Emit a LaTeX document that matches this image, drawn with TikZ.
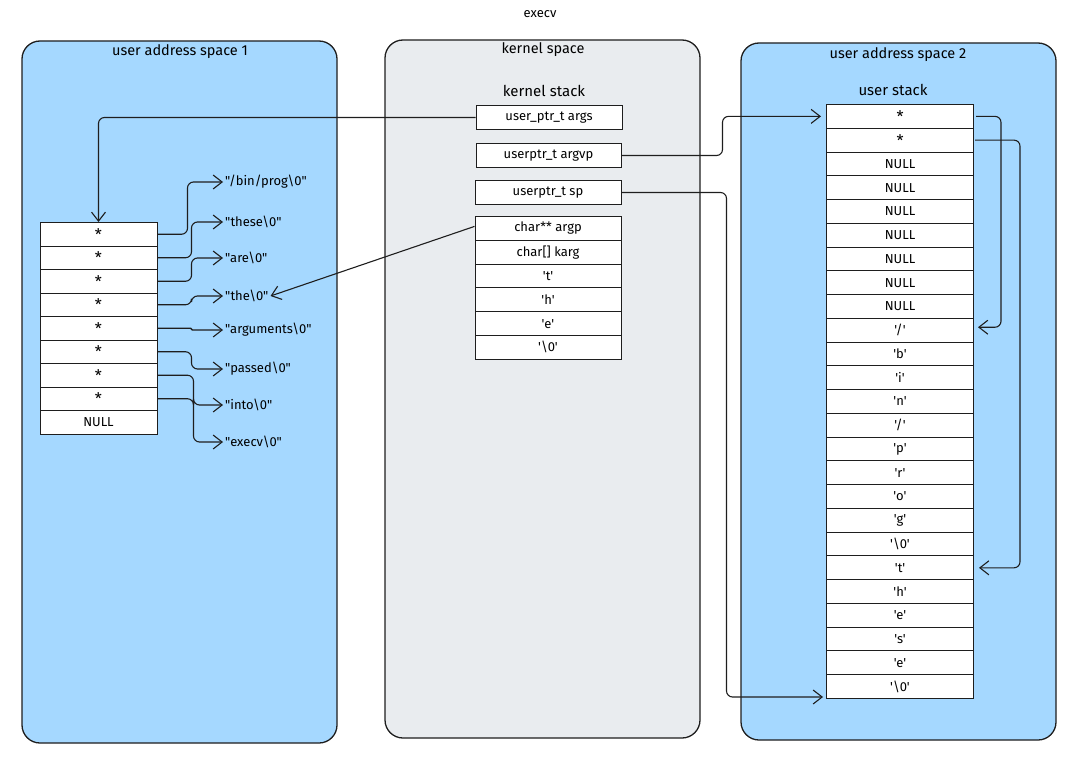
\documentclass[tikz,border=0pt]{standalone}
\usepackage{fontspec}
\setmainfont{Fira Sans}[Ligatures=TeXOff]
\usetikzlibrary{arrows.meta}
\definecolor{ink}{HTML}{1E1E1E}
\definecolor{ublue}{HTML}{A5D8FF}
\definecolor{kgray}{HTML}{E9ECEF}
\newcommand{\ptrstar}{\raisebox{-0.32em}{\fontsize{16}{16}\selectfont *}}
\begin{document}
\begin{tikzpicture}[x=1pt,y=-1pt,font=\fontsize{13}{15}\selectfont,
  panel/.style={draw=ink,line width=1.3pt,rounded corners=18pt},
  cellbox/.style={draw=ink,fill=white,line width=1pt,minimum height=#1,inner sep=0pt,anchor=north},
  cellbox/.default=23.5pt,
  arr/.style={draw=ink,line width=1.1pt,-{Straight Barb[length=9pt,width=14pt]},rounded corners=6pt},
  lbl/.style={inner sep=0pt},
  ttl/.style={inner sep=0pt,font=\fontsize{14.5}{16}\selectfont},
  sub/.style={inner sep=0pt,font=\fontsize{15}{17}\selectfont}]
\useasboundingbox (0,0) rectangle (1081,757);
% panels
\draw[panel,fill=ublue] (22,41) rectangle (337,743);
\draw[panel,fill=kgray] (385,40) rectangle (700,738);
\draw[panel,fill=ublue] (741,43) rectangle (1056,740);
% titles
\node[lbl] (title) at (540,14) {execv};
\node[ttl] (t1) at (180,52) {user address space 1};
\node[ttl] (t2) at (543,50) {kernel space};
\node[sub] (t3) at (544,91) {kernel stack};
\node[ttl] (t4) at (898,55) {user address space 2};
\node[sub] (t5) at (893,90) {user stack};
% left stack
\foreach \i/\t in {1/\ptrstar,2/\ptrstar,3/\ptrstar,4/\ptrstar,5/\ptrstar,6/\ptrstar,7/\ptrstar,8/\ptrstar,9/NULL}
  \node[cellbox,minimum width=117pt] (l\i) at (98.5,{222+(\i-1)*23.5}) {\t};
% strings
\node[lbl,anchor=west] (s1) at (225,182) {"/bin/prog\textbackslash 0"};
\node[lbl,anchor=west] (s2) at (225,222) {"these\textbackslash 0"};
\node[lbl,anchor=west] (s3) at (225,258) {"are\textbackslash 0"};
\node[lbl,anchor=west] (s4) at (225,296) {"the\textbackslash 0"};
\node[lbl,anchor=west] (s5) at (225,330) {"arguments\textbackslash 0"};
\node[lbl,anchor=west] (s6) at (225,369) {"passed\textbackslash 0"};
\node[lbl,anchor=west] (s7) at (225,405) {"into\textbackslash 0"};
\node[lbl,anchor=west] (s8) at (225,442) {"execv\textbackslash 0"};
% kernel boxes
\node[cellbox=24pt,minimum width=146pt] (ka) at (549,105) {user\_ptr\_t args};
\node[cellbox=24pt,minimum width=145pt] (kv) at (548.5,143) {userptr\_t argvp};
\node[cellbox=24pt,minimum width=146pt] (ks) at (548,180) {userptr\_t sp};
\foreach \i/\t in {1/char** argp,2/char[] karg,3/'t',4/'h',5/'e',6/'\textbackslash 0'}
  \node[cellbox=23.8pt,minimum width=146pt] (k\i) at (548,{216+(\i-1)*23.8}) {\t};
% user stack
\foreach \i/\t in {1/\ptrstar,2/\ptrstar,3/NULL,4/NULL,5/NULL,6/NULL,7/NULL,8/NULL,9/NULL,
  10/{'/'},11/'b',12/'i',13/'n',14/{'/'},15/'p',16/'r',17/'o',18/'g',19/'\textbackslash 0',
  20/'t',21/'h',22/'e',23/'s',24/'e',25/'\textbackslash 0'}
  \node[cellbox=23.76pt,minimum width=147pt] (u\i) at (900,{104+(\i-1)*23.76}) {\t};
% left arrows to strings
\draw[arr] (l1.east) -- ++(30,0) |- ([xshift=-2pt]s1.west);
\draw[arr] (l2.east) -- ++(34,0) |- ([xshift=-2pt]s2.west);
\draw[arr] (l3.east) -- ++(34,0) |- ([xshift=-2pt]s3.west);
\draw[arr] (l4.east) -- ++(34,0) |- ([xshift=-2pt]s4.west);
\draw[arr,rounded corners=1pt] (l5.east) -- ++(34,0) |- ([xshift=-2pt]s5.west);
\draw[arr] (l6.east) -- ++(34,0) |- ([xshift=-2pt]s6.west);
\draw[arr] (l7.east) -- ++(36,0) |- ([xshift=-2pt]s8.west);
\draw[arr] (l8.east) -- ++(36,0) |- ([xshift=-2pt]s7.west);
% kernel to user 1
\draw[arr] (ka.west) -| (l1.north);
\draw[arr] ([yshift=2pt]k1.west) -- ([xshift=2pt]s4.east);
% kernel to user 2
\draw[arr] (kv.east) -- ++(101,0) |- ([xshift=-5pt]u1.west);
\draw[arr] (ks.east) -- ++(105,0) |- ([xshift=-3pt,yshift=2pt]u25.south west);
% user stack internal
\draw[arr] ([xshift=2pt]u1.east) -- ++(25,0) |- ([xshift=4pt,yshift=3pt]u10.east);
\draw[arr] ([xshift=1pt]u2.east) -- ++(45,0) |- ([xshift=5pt]u20.east);
\end{tikzpicture}
\end{document}
